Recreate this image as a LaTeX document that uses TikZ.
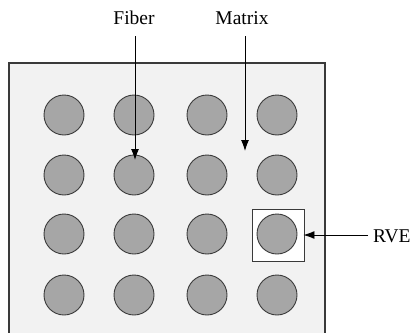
\documentclass[tikz,border=0pt]{standalone}
\usepackage{fontspec}
\setmainfont{Liberation Serif}
\usetikzlibrary{arrows.meta}
\definecolor{matrixfill}{HTML}{F2F2F2}
\definecolor{fiberfill}{HTML}{A6A6A6}
\definecolor{edgegray}{HTML}{3A3A3A}
\tikzset{
  fiber/.style={circle, draw=edgegray, line width=0.9pt, fill=fiberfill,
    minimum size=40pt, inner sep=0pt},
  label/.style={inner sep=0pt, font=\fontsize{19.5}{22}\selectfont},
  pointer/.style={draw=black, line width=0.9pt, -{Latex[length=11pt,width=8pt]}},
  cellbox/.style={rectangle, draw=edgegray, line width=0.9pt, fill=white,
    minimum size=52pt, inner sep=0pt}
}
\begin{document}
\begin{tikzpicture}[x=1pt, y=-1pt]
  \useasboundingbox (0,0) rectangle (411,332);
  % matrix block (its lower edge lies below the page)
  \begin{scope}
    \clip (0,0) rectangle (411,332);
    \draw[edgegray, line width=1.1pt, fill=matrixfill] (9,63) rectangle (325,340);
  \end{scope}
  % representative volume element
  \node[cellbox] (rvebox) at (278,235) {};
  % fiber grid
  \foreach \r/\y in {1/115, 2/175, 3/234, 4/295} {
    \foreach \c/\x in {1/64, 2/134, 3/207, 4/277} {
      \node[fiber] (c\r\c) at (\x,\y) {};
    }
  }
  % labels
  \node[label, anchor=base] (fiber) at (134,24) {Fiber};
  \node[label, anchor=base] (matrix) at (242,24) {Matrix};
  \node[label, anchor=base west] (rve) at (373,242) {RVE};
  % pointers
  \coordinate (ftip) at (135,160);
  \coordinate (mtip) at (245,151);
  \draw[pointer, shorten <=12pt] (fiber.south -| ftip) -- (ftip);
  \draw[pointer, shorten <=12pt] (matrix.south -| mtip) -- (mtip);
  \draw[pointer, shorten <=5pt, shorten >=-1pt] (rve.west |- rvebox.east) -- (rvebox.east);
\end{tikzpicture}
\end{document}
